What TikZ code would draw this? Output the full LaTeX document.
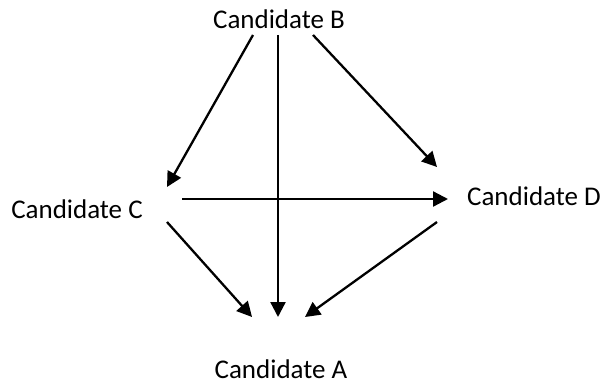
\documentclass[tikz,border=0pt]{standalone}
\usepackage{fontspec}
\setmainfont{Carlito}
\usetikzlibrary{arrows.meta,positioning}
\tikzset{
  cand/.style={anchor=base, inner sep=0pt, font=\fontsize{27}{32}\selectfont},
  vote/.style={line width=2.3pt, -{Triangle[length=15pt,width=15pt]}}
}

\begin{document}
\begin{tikzpicture}[x=1pt,y=-1pt]
  \useasboundingbox (0,0) rectangle (601,385);

  %% candidates
  \node[cand] (nB) at (279,29)  {Candidate B};
  \node[cand] (nC) at (77,218)  {Candidate C};
  \node[cand] (nD) at (534,205) {Candidate D};
  \node[cand] (nA) at (281,378) {Candidate A};

  %% arrow ends
  \coordinate (bLeft)  at (253,35);
  \coordinate (bMid)   at (278,35);
  \coordinate (bRight) at (313,35);
  \coordinate (cIn)    at (167,187);
  \coordinate (cOut)   at (182,199);
  \coordinate (cDown)  at (167,222);
  \coordinate (dIn)    at (437,167);
  \coordinate (dSide)  at (448,199);
  \coordinate (dDown)  at (437,222);
  \coordinate (aLeft)  at (252,317);
  \coordinate (aMid)   at (278,317);
  \coordinate (aRight) at (305,317);

  %% preferences
  \draw[vote] (bLeft)  -- (cIn);
  \draw[vote] (bRight) -- (dIn);
  \draw[vote] (cOut)   -- (dSide);
  \draw[vote] (bMid)   -- (aMid);
  \draw[vote] (cDown)  -- (aLeft);
  \draw[vote] (dDown)  -- (aRight);

\end{tikzpicture}
\end{document}
